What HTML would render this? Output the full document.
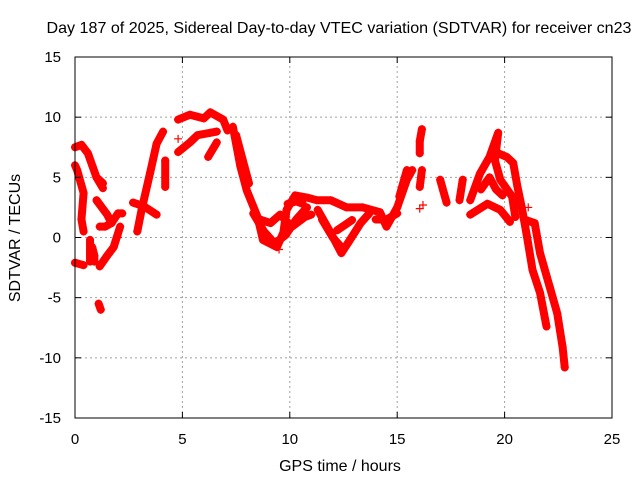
<!DOCTYPE html>
<html><head><meta charset="utf-8"><style>
html,body{margin:0;padding:0;background:#fff;}
svg{display:block;font-family:"Liberation Sans",sans-serif;}
</style></head><body>
<svg id="chart" width="640" height="480" viewBox="0 0 640 480" xmlns="http://www.w3.org/2000/svg">
<rect x="0" y="0" width="640" height="480" fill="#fff"/>
<text x="339" y="33" font-size="16" text-anchor="middle" fill="#000" textLength="585" lengthAdjust="spacingAndGlyphs">Day 187 of 2025, Sidereal Day-to-day VTEC variation (SDTVAR) for receiver cn23</text>
<g id="grid"></g>
<g id="series"></g>
<rect x="75" y="57" width="537" height="361" fill="none" stroke="#000" stroke-width="1"/>
<g id="axes"></g>
<text x="340" y="471" font-size="16" text-anchor="middle">GPS time / hours</text>
<text x="20" y="238" font-size="16" text-anchor="middle" transform="rotate(-90 20 238)">SDTVAR / TECUs</text>
</svg>
<script>
const xTicks = [0, 5, 10, 15, 20, 25];
const yTicks = [-15, -10, -5, 0, 5, 10, 15];
const tracks = [
  [[0.0,7.5],[0.3,7.7],[0.6,7.0],[0.8,6.0],[1.0,5.0],[1.3,4.5]],
  [[0.0,6.0],[0.1,5.6],[0.4,3.7],[0.3,1.5],[0.4,0.5]],
  [[0.7,-0.2],[0.7,-1.0],[0.7,-2.0]],
  [[0.0,-2.1],[0.4,-2.3]],
  [[0.8,-0.8],[0.9,-1.5],[0.9,-2.0]],
  [[1.1,-5.5],[1.2,-6.0]],
  [[1.15,-2.4],[1.5,-1.5],[1.8,-0.8],[2.1,0.9]],
  [[1.0,5.0],[1.3,4.1]],
  [[1.0,3.1],[1.5,1.9],[1.7,1.2],[1.4,0.9],[1.15,0.9]],
  [[1.7,1.2],[2.0,2.0],[2.2,2.0]],
  [[2.9,0.5],[3.1,2.3],[3.5,5.4],[3.8,7.8],[4.1,8.8]],
  [[2.7,2.9],[3.2,2.6],[3.8,1.9]],
  [[4.2,6.4],[4.2,4.2]],
  [[4.8,9.8],[5.35,10.2],[6.0,9.9],[6.3,10.4],[6.9,9.8],[7.1,8.9]],
  [[4.8,7.1],[5.35,7.9],[5.7,8.5],[6.3,8.7],[6.6,8.8]],
  [[6.6,7.9],[6.2,6.7]],
  [[7.35,9.2],[7.7,5.9],[8.0,3.9],[8.5,1.7],[8.75,-0.2],[9.4,-0.8],[9.7,0.4],[9.85,2.3],[10.25,3.5],[10.85,3.3],[11.25,3.1],[11.9,3.1],[12.65,2.5],[13.4,2.5],[14.2,2.1],[14.5,0.9],[15.0,2.5],[15.45,4.8],[15.7,5.6]],
  [[7.5,8.5],[7.8,6.5],[8.1,4.5]],
  [[8.3,2.0],[8.8,0.5],[9.3,-0.5],[9.8,0.2],[10.3,1.5],[10.8,2.5]],
  [[8.6,1.5],[9.1,1.2],[9.55,1.9],[10.1,0.9],[10.7,1.7],[11.0,1.9]],
  [[9.9,2.8],[10.3,3.0],[10.6,2.8]],
  [[11.3,2.3],[11.9,0.4],[12.4,-1.3],[12.8,-0.2],[13.3,1.2],[13.7,2.0]],
  [[11.5,1.5],[12.0,0.0],[12.4,-0.8]],
  [[12.2,0.6],[12.9,1.45]],
  [[14.0,1.5],[14.5,1.5],[15.0,2.0]],
  [[16.15,9.0],[16.05,8.0],[16.05,7.0]],
  [[16.15,5.6],[16.05,4.2]],
  [[15.45,5.6],[15.1,3.4]],
  [[17.0,4.8],[17.3,2.9]],
  [[18.05,4.8],[17.9,3.1]],
  [[18.4,3.1],[18.85,5.3],[19.3,6.7],[19.7,8.7],[19.55,6.4],[19.8,4.8],[20.35,3.4],[20.5,1.7]],
  [[18.9,4.0],[19.3,5.0],[19.6,4.0],[19.9,3.5]],
  [[19.7,7.0],[20.1,6.7],[20.4,6.2],[20.6,4.2],[20.8,2.5],[21.05,0.0],[21.3,-2.7],[21.65,-4.6],[21.95,-7.4]],
  [[20.9,1.5],[21.4,1.2],[21.65,-1.3],[22.1,-4.1],[22.45,-6.3],[22.7,-9.1],[22.8,-10.8]],
  [[18.4,1.9],[19.2,2.8],[19.8,2.3],[20.25,1.3]]
];
const singles = [[16.05,2.4],[16.2,2.7],[4.8,8.2],[2.0,0.0],[9.5,-1.0],[21.1,2.5]];

const X0=75, X1=612, Y0=418, Y1=57;
function xs(v){return X0+(v-0)/(25-0)*(X1-X0);}
function ys(v){return Y0-(v+15)/30*(Y0-Y1);}
const NS='http://www.w3.org/2000/svg';
const grid=document.getElementById('grid'), axes=document.getElementById('axes'), ser=document.getElementById('series');
function mk(t,a,p){const e=document.createElementNS(NS,t);for(const k in a)e.setAttribute(k,a[k]);p.appendChild(e);return e;}
xTicks.forEach(t=>{
  const x=xs(t);
  if(t>0&&t<25){const g=mk('line',{x1:x,y1:Y0,x2:x,y2:Y1,stroke:'#a0a0a0','stroke-dasharray':'2,3'},grid);
  
  }
  mk('line',{x1:x,y1:Y0,x2:x,y2:Y0-6,stroke:'#000'},axes);
  mk('line',{x1:x,y1:Y1,x2:x,y2:Y1+6,stroke:'#000'},axes);
  const l=mk('text',{x:x,y:444,'font-size':15,'text-anchor':'middle'},axes);l.textContent=t;
  
  
});
yTicks.forEach(t=>{
  const y=ys(t);
  if(t>-15&&t<15){const g=mk('line',{x1:X0,y1:y,x2:X1,y2:y,stroke:'#a0a0a0','stroke-dasharray':'2,3'},grid);
  
  }
  mk('line',{x1:X0,y1:y,x2:X0+6,y2:y,stroke:'#000'},axes);
  mk('line',{x1:X1,y1:y,x2:X1-6,y2:y,stroke:'#000'},axes);
  const l=mk('text',{x:61,y:y+5,'font-size':15,'text-anchor':'end'},axes);l.textContent=t;
  
  
});
function plus(v,p){
  const x=xs(v[0]),y=ys(v[1]);
  const e=mk('path',{d:`M${x-4},${y}h8M${x},${y-4}v8`,stroke:'#f00','stroke-width':1.2,fill:'none'},p);
  
  
}
tracks.forEach(tr=>{
  const pl=mk('polyline',{points:tr.map(v=>xs(v[0])+','+ys(v[1])).join(' '),stroke:'#f00','stroke-width':8,fill:'none','stroke-linejoin':'round','stroke-linecap':'round'},ser);
  
  
  tr.forEach(v=>plus(v,ser));
});
singles.forEach(v=>plus(v,ser));
</script>
</body></html>
